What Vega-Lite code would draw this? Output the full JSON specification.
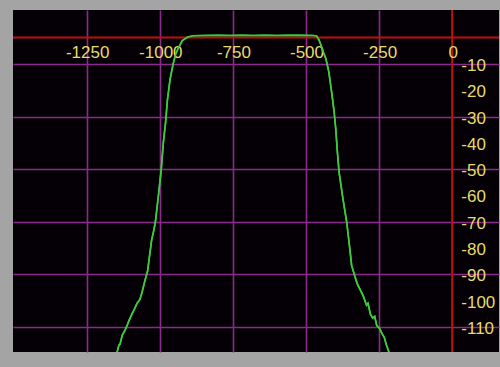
{
  "$schema": "https://vega.github.io/schema/vega-lite/v6.json",
  "width": 500,
  "height": 367,
  "autosize": {"type": "fit", "contains": "padding"},
  "padding": {"left": 12, "top": 9, "right": 0, "bottom": 14},
  "background": "#a4a4a4",
  "config": {
    "view": {"fill": "#050005", "stroke": null},
    "axis": {"grid": true, "gridColor": "#8a2a8a", "gridOpacity": 1, "gridWidth": 1.6, "labels": false, "ticks": false, "domain": false, "title": null}
  },
  "datasets": {
    "curve": [
      {"f": -1147, "db": -120}, {"f": -1140, "db": -117}, {"f": -1136, "db": -116.5}, {"f": -1128, "db": -113},
      {"f": -1120, "db": -111.5}, {"f": -1112, "db": -109.5}, {"f": -1105, "db": -107.5}, {"f": -1095, "db": -105},
      {"f": -1088, "db": -103.5}, {"f": -1078, "db": -101}, {"f": -1068, "db": -99.5}, {"f": -1060, "db": -96.5},
      {"f": -1050, "db": -92}, {"f": -1042, "db": -88.9}, {"f": -1035, "db": -83}, {"f": -1028, "db": -77},
      {"f": -1022, "db": -74}, {"f": -1015, "db": -70}, {"f": -1005, "db": -60.3}, {"f": -995, "db": -50.1},
      {"f": -988, "db": -40}, {"f": -980, "db": -32}, {"f": -974, "db": -23.7}, {"f": -965, "db": -16},
      {"f": -954, "db": -9.8}, {"f": -945, "db": -6}, {"f": -937, "db": -4.1}, {"f": -923, "db": -1.1},
      {"f": -906, "db": 0.1}, {"f": -886, "db": 0.7}, {"f": -850, "db": 0.8}, {"f": -800, "db": 0.9},
      {"f": -760, "db": 0.8}, {"f": -720, "db": 0.9}, {"f": -680, "db": 0.8}, {"f": -640, "db": 0.85},
      {"f": -600, "db": 0.8}, {"f": -560, "db": 0.9}, {"f": -520, "db": 0.85}, {"f": -475, "db": 0.8},
      {"f": -463, "db": 0.5}, {"f": -456, "db": -0.8}, {"f": -450, "db": -2.5}, {"f": -443, "db": -4.9},
      {"f": -432, "db": -8}, {"f": -422, "db": -13}, {"f": -412, "db": -21}, {"f": -404, "db": -28},
      {"f": -398, "db": -35}, {"f": -393, "db": -43}, {"f": -387, "db": -51}, {"f": -375, "db": -60.3},
      {"f": -361, "db": -70}, {"f": -351, "db": -79.5}, {"f": -344, "db": -86.6}, {"f": -335, "db": -90},
      {"f": -325, "db": -93.5}, {"f": -317, "db": -95.3}, {"f": -305, "db": -98}, {"f": -293, "db": -101.7},
      {"f": -288, "db": -101}, {"f": -280, "db": -105}, {"f": -272, "db": -106.6}, {"f": -265, "db": -106},
      {"f": -258, "db": -109.5}, {"f": -249, "db": -110.4}, {"f": -240, "db": -112.5}, {"f": -232, "db": -114},
      {"f": -225, "db": -116.8}, {"f": -215, "db": -120}
    ],
    "xlabels": [
      {"v": -1250, "t": "-1250"}, {"v": -1000, "t": "-1000"}, {"v": -750, "t": "-750"},
      {"v": -500, "t": "-500"}, {"v": -250, "t": "-250"}, {"v": 0, "t": "0"}
    ],
    "ylabels": [
      {"v": -10, "t": "-10"}, {"v": -20, "t": "-20"}, {"v": -30, "t": "-30"}, {"v": -40, "t": "-40"},
      {"v": -50, "t": "-50"}, {"v": -60, "t": "-60"}, {"v": -70, "t": "-70"}, {"v": -80, "t": "-80"},
      {"v": -90, "t": "-90"}, {"v": -100, "t": "-100"}, {"v": -110, "t": "-110"}
    ],
    "zero": [{"v": 0}]
  },
  "layer": [
    {
      "data": {"name": "curve"},
      "mark": {"type": "line", "color": "#3ccc3c", "strokeWidth": 1.6, "clip": true},
      "encoding": {
        "x": {"field": "f", "type": "quantitative", "scale": {"domain": [-1502, 160], "nice": false, "zero": false},
              "axis": {"values": [-1250, -1000, -750, -500, -250]}},
        "y": {"field": "db", "type": "quantitative", "scale": {"domain": [-119.5, 10.5], "nice": false, "zero": false},
              "axis": {"values": [-10, -20, -30, -40, -50, -60, -70, -80, -90, -100, -110]}}
      }
    },
    {
      "data": {"name": "zero"},
      "mark": {"type": "rule", "color": "#c01010", "strokeWidth": 2},
      "encoding": {"x": {"field": "v", "type": "quantitative"}}
    },
    {
      "data": {"name": "zero"},
      "mark": {"type": "rule", "color": "#c01010", "strokeWidth": 2},
      "encoding": {"y": {"field": "v", "type": "quantitative"}}
    },
    {
      "data": {"name": "xlabels"},
      "mark": {"type": "text", "color": "#e6dc6a", "font": "Liberation Sans", "fontSize": 17, "align": "center", "baseline": "middle", "dx": 1},
      "encoding": {
        "x": {"field": "v", "type": "quantitative"},
        "y": {"datum": -6},
        "text": {"field": "t"}
      }
    },
    {
      "data": {"name": "ylabels"},
      "mark": {"type": "text", "color": "#e6dc6a", "font": "Liberation Sans", "fontSize": 17, "align": "left", "baseline": "middle", "dy": 2},
      "encoding": {
        "x": {"datum": 31},
        "y": {"field": "v", "type": "quantitative"},
        "text": {"field": "t"}
      }
    },
    {
      "data": {"name": "curve"},
      "mark": {"type": "line", "color": "#3ccc3c", "strokeWidth": 1.6, "clip": true},
      "encoding": {
        "x": {"field": "f", "type": "quantitative"},
        "y": {"field": "db", "type": "quantitative"}
      }
    }
  ]
}
